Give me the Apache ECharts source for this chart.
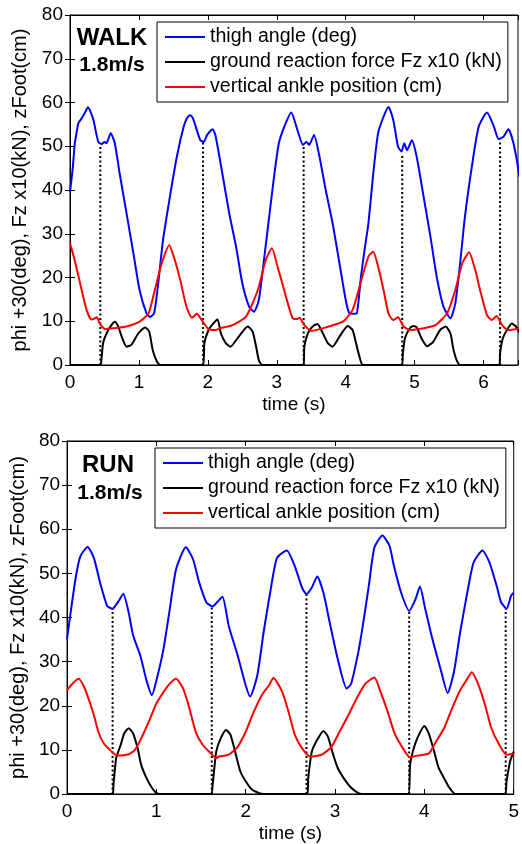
<!DOCTYPE html>
<html>
<head>
<meta charset="utf-8">
<script src="https://cdn.jsdelivr.net/npm/echarts@6/dist/echarts.min.js"></script>
<style>
html,body{margin:0;padding:0;background:#fff;}
#chart{width:522px;height:844px;}
</style>
</head>
<body>
<div id="chart"></div>
<script>
// ---------- DATA ----------
const seriesNames = ['thigh angle (deg)', 'ground reaction force Fz x10 (kN)', 'vertical ankle position (cm)'];
const yTicks = [0, 10, 20, 30, 40, 50, 60, 70, 80];

// WALK panel
const walkThigh = [[0,39.5],[0.04,45],[0.07,50.7],[0.10,53.5],[0.12,55.2],[0.17,56.4],[0.22,57.8],[0.26,58.9],[0.30,57.8],[0.34,56],[0.41,51],[0.46,50.5],[0.50,51],[0.53,50.7],[0.59,53],[0.65,50.7],[0.72,43.8],[0.82,34.7],[0.92,25.5],[1.01,17.1],[1.11,11.8],[1.16,11.0],[1.22,11.8],[1.28,18.7],[1.35,28.6],[1.45,38.5],[1.55,47.6],[1.65,54.5],[1.70,56.5],[1.74,57.1],[1.78,56.5],[1.81,55.2],[1.89,51.4],[1.94,51.0],[1.99,52.6],[2.07,53.9],[2.11,52.5],[2.21,43.8],[2.31,34.7],[2.41,27],[2.50,18.7],[2.60,13.3],[2.67,12.2],[2.74,14.9],[2.82,24.8],[2.89,33.9],[2.96,43],[3.03,50.7],[3.11,54.5],[3.21,57.7],[3.30,53.7],[3.38,50.3],[3.43,51],[3.47,50.3],[3.54,52.6],[3.62,47.6],[3.71,40],[3.81,32.4],[3.91,23.2],[4.00,14.9],[4.05,11.9],[4.10,11.7],[4.16,11.8],[4.22,20],[4.28,27],[4.33,32.4],[4.40,43.8],[4.47,53],[4.55,56.8],[4.62,59.0],[4.69,56],[4.76,49.9],[4.81,48.8],[4.85,50.7],[4.89,49.1],[4.96,51.4],[5.03,47.6],[5.13,38.5],[5.23,29.3],[5.32,20.2],[5.42,13.3],[5.52,10.7],[5.59,14.1],[5.66,23.2],[5.73,33.9],[5.83,45.3],[5.93,54.5],[6.05,57.7],[6.15,54.5],[6.22,51.6],[6.29,52.2],[6.36,53.9],[6.44,50.3],[6.52,43]];
const walkForce = [[0,0],[0.43,0],[0.45,0.4],[0.48,5],[0.53,7.2],[0.60,9.1],[0.65,9.9],[0.70,8.8],[0.75,6.5],[0.82,4.2],[0.89,4.6],[0.99,7.2],[1.09,8.6],[1.15,7.6],[1.20,3.4],[1.26,0.8],[1.31,0],[1.93,0],[1.95,5],[2.01,8],[2.08,9.5],[2.14,10.4],[2.19,7.2],[2.26,5],[2.33,4.2],[2.43,6.1],[2.58,8.8],[2.65,7.6],[2.70,4.2],[2.74,1.1],[2.79,0],[3.39,0],[3.40,4.2],[3.45,7.2],[3.52,8.8],[3.59,9.4],[3.67,7.2],[3.74,5],[3.81,4.2],[3.91,6.5],[4.03,8.9],[4.10,8],[4.15,5],[4.20,1.9],[4.25,0],[4.81,0],[4.83,2.7],[4.86,6.1],[4.93,8.4],[4.98,8.9],[5.03,8.6],[5.10,6.1],[5.18,4.3],[5.27,5.3],[5.37,8],[5.45,8.8],[5.52,7.2],[5.56,3.8],[5.61,1.1],[5.66,0],[6.23,0],[6.24,2.7],[6.28,6.1],[6.34,8],[6.41,9.5],[6.47,8.8],[6.53,7.2]];
const walkAnkle = [[0,27.8],[0.05,25],[0.09,22.5],[0.17,17.1],[0.24,12.6],[0.31,10.4],[0.35,10.6],[0.39,10.9],[0.43,9.5],[0.51,8.2],[0.63,8.4],[0.82,8.8],[1.01,9.9],[1.14,11.8],[1.23,17.1],[1.33,23.2],[1.44,27.4],[1.52,24],[1.60,19.4],[1.69,13.3],[1.77,10.8],[1.84,11.7],[1.91,10.3],[2.01,8.2],[2.11,8.0],[2.18,8.4],[2.36,9.1],[2.55,11],[2.67,14.9],[2.74,17.9],[2.84,24],[2.93,26.7],[3.01,22.5],[3.08,18.7],[3.16,14.1],[3.23,10.7],[3.29,10.5],[3.33,10.8],[3.40,9.1],[3.50,7.8],[3.71,8.6],[3.96,9.9],[4.10,12.6],[4.20,17.9],[4.33,24.8],[4.40,25.9],[4.47,22.5],[4.55,17.1],[4.62,11.8],[4.69,10.3],[4.76,10.9],[4.84,8.8],[4.93,8.0],[5.13,8.4],[5.30,9.1],[5.47,11.8],[5.59,17.1],[5.69,23.2],[5.79,25.8],[5.88,21.7],[5.95,17.1],[6.05,11.4],[6.12,10.3],[6.19,11.2],[6.27,9.1],[6.36,8.0],[6.53,8.4]];
const walkEventT = [0.44, 1.93, 3.39, 4.82, 6.24];
const walkEventH = [50, 51, 50, 48, 51];
const walkXTicks = [0, 1, 2, 3, 4, 5, 6];

// RUN panel
const runThigh = [[0,35.1],[0.04,41.1],[0.10,49.4],[0.15,53.9],[0.23,56],[0.30,53.5],[0.37,47.9],[0.45,42.6],[0.51,42],[0.58,43.8],[0.63,45.4],[0.69,41.1],[0.74,35.9],[0.82,31.4],[0.89,25.7],[0.95,22.4],[1.00,25.7],[1.08,32.9],[1.15,41.9],[1.22,50.9],[1.33,55.9],[1.41,53.2],[1.48,47.9],[1.56,43.4],[1.63,42.5],[1.68,43.5],[1.74,44.7],[1.81,38.1],[1.91,31.4],[2.00,24.6],[2.05,22.1],[2.13,26.9],[2.20,36.6],[2.28,46.4],[2.35,53.5],[2.46,55.2],[2.55,51.6],[2.63,46.8],[2.68,45.3],[2.74,46.8],[2.80,49.3],[2.87,45.6],[2.94,38.9],[3.03,30.6],[3.13,23.9],[3.18,25],[3.26,32.1],[3.30,36.8],[3.34,42],[3.38,47.5],[3.44,55.8],[3.53,58.6],[3.61,56.2],[3.66,51.6],[3.74,45.6],[3.83,41.5],[3.90,44.1],[3.95,47],[4.01,41.9],[4.09,35.1],[4.18,28.4],[4.26,22.9],[4.33,27.6],[4.40,36.6],[4.48,45.6],[4.55,52.4],[4.65,55.2],[4.73,52.4],[4.81,47.1],[4.86,43.4],[4.92,42],[4.97,44.9],[5.0,45.6]];
const runForce = [[0,0],[0.51,0],[0.52,2.1],[0.55,8.1],[0.60,11.1],[0.64,13.7],[0.69,14.9],[0.74,13.7],[0.79,10.4],[0.83,6.6],[0.89,3.6],[0.95,1.4],[1.00,0.2],[1.04,0],[1.61,0],[1.63,2.1],[1.67,9.6],[1.72,12.6],[1.78,14.5],[1.83,13.4],[1.89,8.9],[1.94,5.1],[2.00,2.9],[2.07,1],[2.15,0.2],[2.2,0],[2.69,0],[2.70,3.6],[2.74,9.6],[2.79,11.9],[2.87,14.3],[2.92,13],[2.98,8.9],[3.03,5.9],[3.11,3.2],[3.18,1.4],[3.26,0.2],[3.3,0],[3.82,0],[3.84,6.6],[3.87,9.6],[3.92,12.6],[4.00,15.4],[4.05,13.7],[4.11,9.6],[4.16,5.9],[4.22,3.6],[4.27,1.7],[4.33,0.2],[4.36,0],[4.90,0],[4.92,2.9],[4.96,7.4],[5.0,9.6]];
const runAnkle = [[0,23.5],[0.06,25],[0.13,26.1],[0.19,24.3],[0.24,21.6],[0.30,17.9],[0.35,14.1],[0.41,11.5],[0.48,10],[0.56,8.7],[0.69,9],[0.76,10],[0.83,12.6],[0.93,17.1],[1.00,20.5],[1.08,23.1],[1.15,25],[1.22,26.1],[1.30,23.9],[1.37,19.4],[1.44,14.1],[1.52,11.1],[1.61,9.2],[1.67,8.1],[1.70,8.5],[1.81,8.9],[1.91,10.7],[2.00,14.1],[2.09,18.6],[2.18,22.4],[2.26,24.6],[2.31,26.3],[2.41,23.1],[2.48,18.6],[2.55,13.4],[2.63,10.4],[2.72,8.5],[2.85,8.9],[2.96,10.7],[3.05,14.1],[3.15,17.9],[3.24,21.6],[3.34,25],[3.44,26.4],[3.51,23.1],[3.59,18.6],[3.66,14.1],[3.74,11],[3.84,8.3],[3.92,8.7],[4.05,9.2],[4.12,11.5],[4.22,14.9],[4.31,19.4],[4.40,23.5],[4.48,26.1],[4.53,27.6],[4.60,25],[4.68,20.1],[4.75,14.9],[4.83,11.5],[4.92,8.9],[5.0,9.2]];
const runEventT = [0.51, 1.62, 2.68, 3.83, 4.91];
const runEventH = [42, 42.5, 45.3, 41.5, 42];
const runXTicks = [0, 1, 2, 3, 4, 5];

const panelTitles = [['WALK', '1.8m/s'], ['RUN', '1.8m/s']];
const xAxisName = 'time (s)';
const yAxisName = 'phi +30(deg), Fz x10(kN), zFoot(cm)';

// ---------- CHART ----------
const FONT = '"Liberation Sans", Arial, Helvetica, sans-serif';
const chart = echarts.init(document.getElementById('chart'), null, {renderer: 'canvas'});

function eventData(ts, hs) {
  const d = [];
  ts.forEach((t, i) => { d.push([t, 0]); d.push([t, hs[i]]); d.push([t, '-']); });
  return d;
}

const grids = [
  {left: 70, right: 4, top: 15, height: 350, show: true, borderColor: '#000', borderWidth: 1},
  {left: 67, right: 4, top: 441, height: 355, show: true, borderColor: '#000', borderWidth: 1}
];
const xMax = [6.5, 5];
const xTickSets = [walkXTicks, runXTicks];

const xAxes = [], yAxes = [];
[0, 1].forEach(g => {
  const ticks = xTickSets[g];
  const base = {
    type: 'value', gridIndex: g, min: 0, max: xMax[g], interval: 1,
    axisLine: {show: true, onZero: false, lineStyle: {color: '#000', width: 1}},
    axisTick: {show: true, inside: true, length: 5, lineStyle: {color: '#000'}},
    splitLine: {show: false}
  };
  xAxes.push(Object.assign({}, base, {
    position: 'bottom',
    name: xAxisName, nameLocation: 'middle', nameGap: 30,
    nameTextStyle: {color: '#000', fontSize: 19, fontFamily: FONT},
    axisLabel: {show: true, color: '#000', fontSize: 19, fontFamily: FONT, margin: 8,
      formatter: v => (ticks.indexOf(v) >= 0 ? String(v) : '')}
  }));
  xAxes.push(Object.assign({}, base, {position: 'top', axisLabel: {show: false}}));
  const ybase = {
    type: 'value', gridIndex: g, min: 0, max: 80, interval: 10,
    axisLine: {show: true, lineStyle: {color: '#000', width: 1}},
    axisTick: {show: true, inside: true, length: 5, lineStyle: {color: '#000'}},
    splitLine: {show: false}
  };
  yAxes.push(Object.assign({}, ybase, {
    position: 'left',
    name: yAxisName, nameLocation: 'middle', nameGap: 31, nameRotate: 90,
    nameTextStyle: {color: '#000', fontSize: 20, fontFamily: FONT},
    axisLabel: {show: true, color: '#000', fontSize: 19, fontFamily: FONT, margin: 7,
      formatter: v => (yTicks.indexOf(v) >= 0 ? String(v) : '')}
  }));
  yAxes.push(Object.assign({}, ybase, {position: 'right', axisLabel: {show: false}}));
});

const panels = [
  {thigh: walkThigh, force: walkForce, ankle: walkAnkle, evT: walkEventT, evH: walkEventH},
  {thigh: runThigh, force: runForce, ankle: runAnkle, evT: runEventT, evH: runEventH}
];
const series = [];
panels.forEach((p, g) => {
  const common = {type: 'line', xAxisIndex: g * 2, yAxisIndex: g * 2, showSymbol: false, symbol: 'none', animation: false, smooth: 0.2, clip: true};
  series.push(Object.assign({}, common, {name: 'events' + g, smooth: false, data: eventData(p.evT, p.evH),
    lineStyle: {color: '#000', width: 2, type: [2, 2.5]}}));
  series.push(Object.assign({}, common, {name: seriesNames[0], data: p.thigh, color: '#0000ff', lineStyle: {color: '#0000ff', width: 2}}));
  series.push(Object.assign({}, common, {name: seriesNames[1], data: p.force, color: '#000000', lineStyle: {color: '#000000', width: 2}}));
  series.push(Object.assign({}, common, {name: seriesNames[2], data: p.ankle, color: '#ff0000', lineStyle: {color: '#ff0000', width: 2}}));
});

const legendBase = {
  data: seriesNames, orient: 'vertical', icon: 'rect', itemWidth: 40, itemHeight: 2,
  itemGap: 5, padding: [5, 6, 5, 8], borderColor: '#000', borderWidth: 1, borderRadius: 0,
  backgroundColor: '#fff', selectedMode: false,
  textStyle: {color: '#000', fontSize: 19.6, fontFamily: FONT, lineHeight: 20}
};
const legends = [
  Object.assign({}, legendBase, {left: 157, top: 22}),
  Object.assign({}, legendBase, {left: 155, top: 448})
];

const titlePos = [[112, 38, 112, 65], [108, 465, 110, 493]];
const graphics = [];
panelTitles.forEach((t, i) => {
  const p = titlePos[i];
  graphics.push({type: 'text', x: p[0], y: p[1], z: 100,
    style: {text: t[0], fill: '#000', font: 'bold 24px ' + FONT, textAlign: 'center', textVerticalAlign: 'middle'}});
  graphics.push({type: 'text', x: p[2], y: p[3], z: 100,
    style: {text: t[1], fill: '#000', font: 'bold 21px ' + FONT, textAlign: 'center', textVerticalAlign: 'middle'}});
});

chart.setOption({
  animation: false,
  backgroundColor: '#fff',
  grid: grids,
  xAxis: xAxes,
  yAxis: yAxes,
  legend: legends,
  series: series,
  graphic: graphics
});
</script>
</body>
</html>
